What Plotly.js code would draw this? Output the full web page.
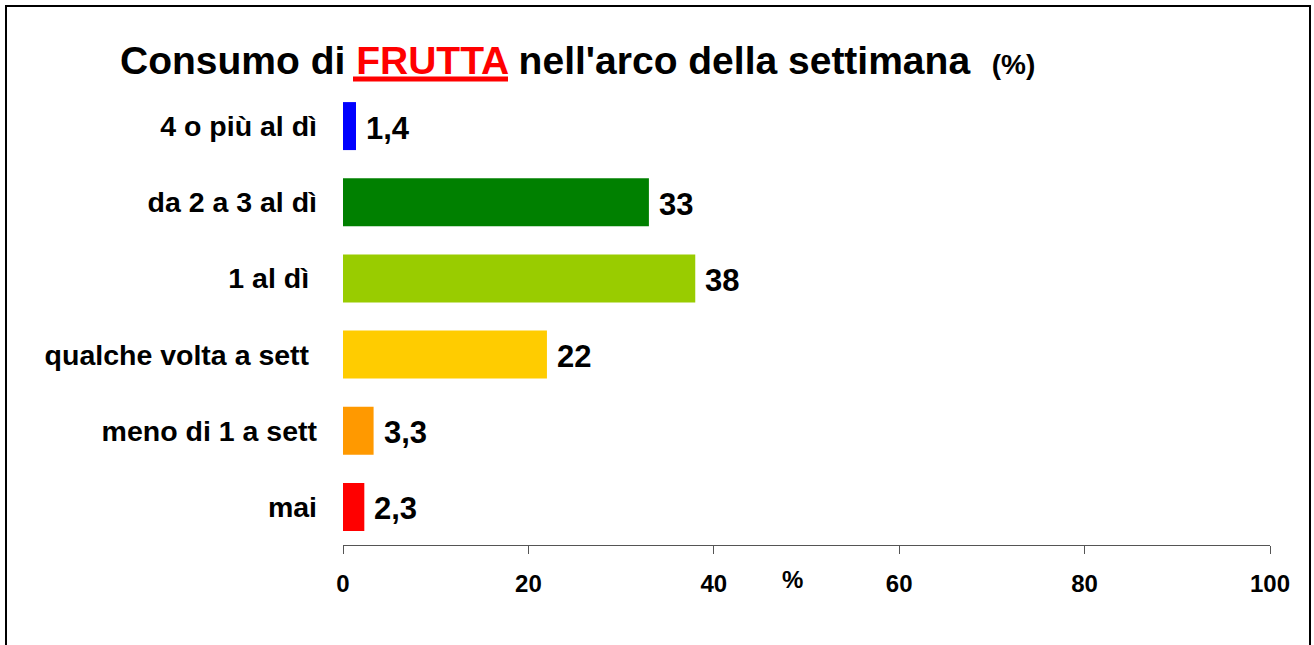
<!DOCTYPE html>
<html>
<head>
<meta charset="utf-8">
<script src="https://cdn.plot.ly/plotly-3.0.1.min.js"></script>
<style>
  html, body { margin: 0; padding: 0; background: #fff; }
  #chart { width: 1314px; height: 645px; }
</style>
</head>
<body>
<div id="chart"></div>
<script>
const categories = ["4 o più al dì", "da 2 a 3 al dì", "1 al dì ", "qualche volta a sett ", "meno di 1 a sett", "mai"];
const values = [1.4, 33, 38, 22, 3.3, 2.3];
const barColors = ["#0000FF", "#008000", "#99CC00", "#FFCC00", "#FF9900", "#FF0000"];
const tickValues = [0, 20, 40, 60, 80, 100];
const tickLabels = ["0", "20", "40", "60", "80", "100"];

const FONT = "Liberation Sans, Arial, sans-serif";

const trace = {
  type: "bar",
  orientation: "h",
  x: values,
  y: categories,
  marker: { color: barColors, line: { width: 0 } },
  width: 0.63,
  hoverinfo: "skip"
};

const labelAnnotations = values.map((v, i) => ({
  x: v,
  y: categories[i],
  xref: "x",
  yref: "y",
  text: String(v).replace(".", ","),
  showarrow: false,
  xanchor: "left",
  yanchor: "middle",
  xshift: 8,
  yshift: -2,
  font: { family: FONT, size: 31, color: "#000", weight: "bold" }
}));

const layout = {
  width: 1314,
  height: 645,
  margin: { l: 343, r: 44, t: 88, b: 100 },
  paper_bgcolor: "#fff",
  plot_bgcolor: "#fff",
  showlegend: false,
  bargap: 0.37,
  title: {
    text: "Consumo di <span style='color:#FF0000'>FRUTTA</span> nell'arco della settimana  <span style='font-size:28px'>(%)</span>",
    font: { family: FONT, size: 39, color: "#000", weight: "bold" },
    x: 120 / 1314,
    xanchor: "left",
    xref: "container",
    y: 1 - 60 / 645,
    yanchor: "middle",
    yref: "container"
  },
  xaxis: {
    range: [0, 100],
    tickvals: tickValues,
    ticktext: tickLabels,
    ticks: "outside",
    ticklen: 8,
    tickwidth: 1,
    tickcolor: "#555",
    showline: true,
    linecolor: "#555",
    linewidth: 1,
    showgrid: false,
    zeroline: false,
    fixedrange: true,
    ticklabelstandoff: 9,
    tickfont: { family: FONT, size: 24, color: "#000", weight: "bold" }
  },
  yaxis: {
    type: "category",
    autorange: "reversed",
    showline: false,
    showgrid: false,
    zeroline: false,
    ticks: "",
    ticklabelstandoff: 25,
    fixedrange: true,
    tickfont: { family: FONT, size: 28.5, color: "#000", weight: "bold" }
  },
  annotations: labelAnnotations.concat([
    {
      text: "%",
      xref: "paper",
      yref: "paper",
      x: (792 - 343) / 927,
      y: -(579 - 545) / 457,
      showarrow: false,
      xanchor: "center",
      yanchor: "middle",
      font: { family: FONT, size: 24, color: "#000", weight: "bold" }
    }
  ]),
  shapes: [
    {
      type: "rect",
      xref: "paper",
      yref: "paper",
      x0: (6 - 343) / 927,
      x1: (1310 - 343) / 927,
      y0: -0.4,
      y1: (545 - 6) / 457,
      line: { color: "#000", width: 2 },
      fillcolor: "rgba(0,0,0,0)"
    },
    {
      type: "line",
      xref: "paper",
      yref: "paper",
      x0: (353 - 343) / 927,
      x1: (508 - 343) / 927,
      y0: (545 - 79) / 457,
      y1: (545 - 79) / 457,
      line: { color: "#FF0000", width: 5 }
    }
  ]
};

Plotly.newPlot("chart", [trace], layout, { displayModeBar: false, staticPlot: true });
</script>
</body>
</html>
